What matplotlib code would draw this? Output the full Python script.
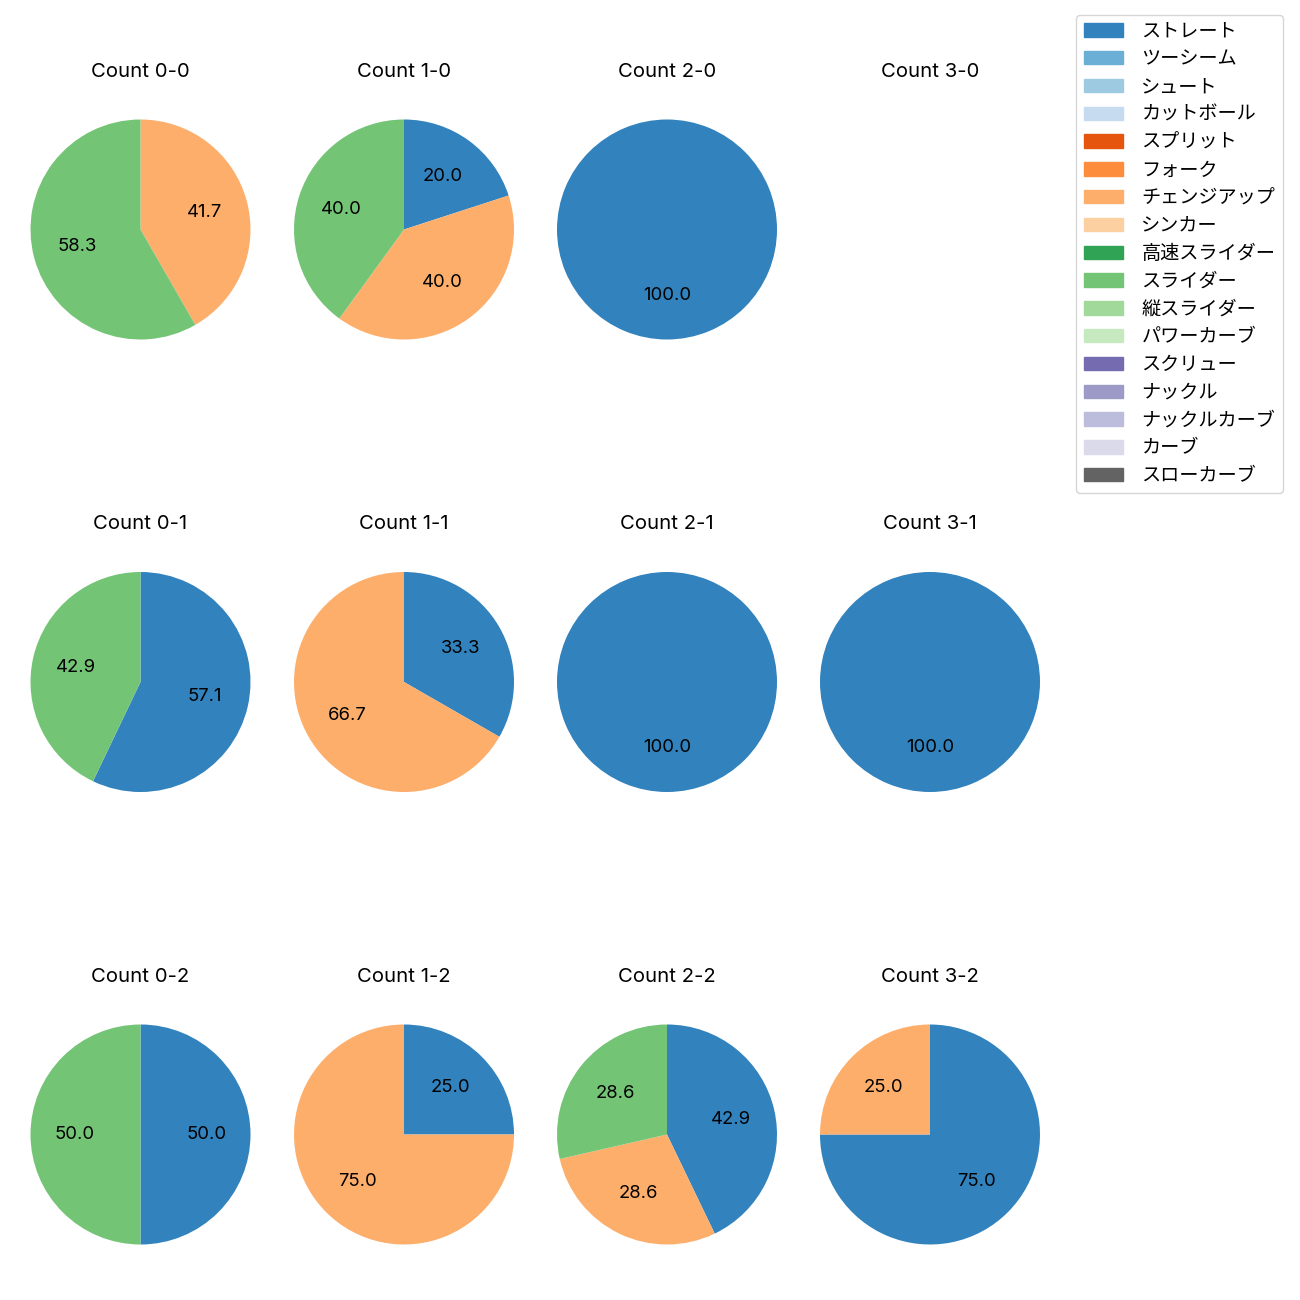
import matplotlib
matplotlib.use('Agg')
import matplotlib.pyplot as plt
from matplotlib.patches import Patch

plt.rcParams['font.family'] = ['Inter', 'Noto Sans CJK JP', 'DejaVu Sans']

# pitch types shown in the legend (tab20c colours in this order)
pitch_types = ['ストレート', 'ツーシーム', 'シュート', 'カットボール', 'スプリット', 'フォーク',
               'チェンジアップ', 'シンカー', '高速スライダー', 'スライダー', '縦スライダー',
               'パワーカーブ', 'スクリュー', 'ナックル', 'ナックルカーブ', 'カーブ', 'スローカーブ']

# counts, row by row (strikes 0..2, balls 0..3)
counts = ['0-0', '1-0', '2-0', '3-0',
          '0-1', '1-1', '2-1', '3-1',
          '0-2', '1-2', '2-2', '3-2']

# share (%) per count
straight = [0, 20.0, 100.0, 0, 57.1, 33.3, 100.0, 100.0, 50.0, 25.0, 42.9, 75.0]
changeup = [41.7, 40.0, 0, 0, 0, 66.7, 0, 0, 0, 75.0, 28.6, 25.0]
slider = [58.3, 40.0, 0, 0, 42.9, 0, 0, 0, 50.0, 0, 28.6, 0]

cmap = plt.get_cmap('tab20c')
colors = [cmap(i) for i in range(len(pitch_types))]
series = [(straight, colors[0]), (changeup, colors[6]), (slider, colors[9])]

W = H = 1300
fig = plt.figure(figsize=(13, 13), dpi=100)

cx = [140.5, 404, 667, 930]
cy = [229.5, 682, 1134.5]
side = 275

for i, c in enumerate(counts):
    r, col = divmod(i, 4)
    rect = [(cx[col] - side / 2) / W, 1 - (cy[r] + side / 2) / H, side / W, side / H]
    ax = fig.add_axes(rect)
    vals = [s[0][i] for s in series if s[0][i] > 0]
    cols = [s[1] for s in series if s[0][i] > 0]
    if vals:
        ax.pie(vals, colors=cols, autopct='%.1f', startangle=90, counterclock=False,
               textprops={'fontsize': 13.3})
    else:
        ax.axis('off')
    ax.set_title(f'Count {c}', fontsize=14.6, pad=11)

handles = [Patch(color=colors[k]) for k in range(len(pitch_types))]
fig.legend(handles, pitch_types, loc='upper right',
           bbox_to_anchor=(1283 / W, 1 - 15 / H), borderaxespad=0, fontsize=13.8,
           labelspacing=0.51, handlelength=2.05, handletextpad=0.95)

fig.savefig('out.png', dpi=100)
